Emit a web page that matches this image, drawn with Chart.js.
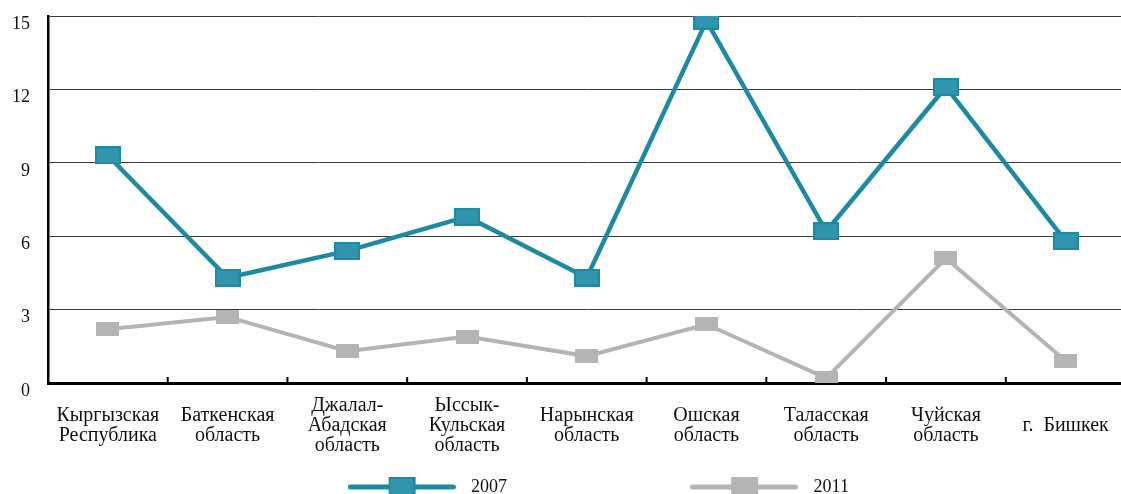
<!DOCTYPE html>
<html><head><meta charset="utf-8">
<script src="https://cdn.jsdelivr.net/npm/chart.js@4/dist/chart.umd.min.js"></script>
<style>
html,body{margin:0;padding:0;background:#fff;overflow:hidden;width:1121px;height:494px}
#wrap{width:1121px;height:494px;overflow:hidden;position:relative}
canvas{position:absolute;left:0;top:0}
</style></head>
<body><div id="wrap"><canvas id="c" width="1140" height="506"></canvas></div>
<script>
const categories = [
  ['Кыргызская','Республика'],
  ['Баткенская','область'],
  ['Джалал-','Абадская','область'],
  ['Ыссык-','Кульская','область'],
  ['Нарынская','область'],
  ['Ошская','область'],
  ['Таласская','область'],
  ['Чуйская','область'],
  'г.  Бишкек'
];
const seriesNames = ['2007','2011'];
const values2007 = [9.3, 4.3, 5.4, 6.8, 4.3, 14.8, 6.2, 12.1, 5.8];
const values2011 = [2.2, 2.7, 1.3, 1.9, 1.1, 2.4, 0.2, 5.1, 0.9];
const yTickValues = [0, 3, 6, 9, 12, 15];

const TEAL = '#1d8aa3', TEAL_FILL = '#3095ad', GRAY = '#b4b4b4';
const FONT = 'Liberation Serif';

function makeMarker(w, h, fill, stroke, sw) {
  const c = document.createElement('canvas');
  c.width = w; c.height = h;
  const g = c.getContext('2d');
  g.fillStyle = stroke; g.fillRect(0, 0, w, h);
  g.fillStyle = fill; g.fillRect(sw, sw, w - 2 * sw, h - 2 * sw);
  return c;
}
function makeLegendIcon(color, mw, mh, fill, stroke, sw, lw) {
  const W = 108, H = 22;
  const c = document.createElement('canvas');
  c.width = W; c.height = H;
  const g = c.getContext('2d');
  g.strokeStyle = color; g.lineWidth = lw; g.lineCap = 'round';
  g.beginPath(); g.moveTo(lw / 2, H / 2); g.lineTo(W - lw / 2, H / 2); g.stroke();
  const m = makeMarker(mw, mh, fill, stroke, sw);
  g.drawImage(m, (W - mw) / 2, (H - mh) / 2);
  return c;
}
const marker2007 = makeMarker(26, 18, TEAL_FILL, TEAL, 2);
const marker2011 = makeMarker(23, 14, GRAY, GRAY, 0);
const legendIcons = [
  makeLegendIcon(TEAL, 27, 20, TEAL_FILL, TEAL, 2, 5),
  makeLegendIcon(GRAY, 27, 20, GRAY, GRAY, 0, 5)
];

const innerTicks = {
  id: 'innerTicks',
  afterDraw(chart) {
    const s = chart.scales.x, ctx = chart.ctx;
    ctx.save();
    ctx.strokeStyle = '#000'; ctx.lineWidth = 2;
    for (let i = 1; i <= categories.length; i++) {
      const x = (s.getPixelForValue(i - 1) + s.getPixelForValue(i)) / 2;
      ctx.beginPath(); ctx.moveTo(x, s.top - 6); ctx.lineTo(x, s.top); ctx.stroke();
    }
    ctx.restore();
  }
};
const legendShift = {
  id: 'legendShift',
  afterLayout(chart) {
    if (chart.legend) { chart.legend.left += 29; chart.legend.right += 29; }
  }
};

new Chart(document.getElementById('c'), {
  type: 'line',
  data: {
    labels: categories,
    datasets: [
      { label: seriesNames[0], data: values2007, borderColor: TEAL, backgroundColor: TEAL,
        borderWidth: 4.5, pointStyle: marker2007, pointRadius: 10, tension: 0, fill: false },
      { label: seriesNames[1], data: values2011, borderColor: GRAY, backgroundColor: GRAY,
        borderWidth: 4, pointStyle: marker2011, pointRadius: 10, tension: 0, fill: false }
    ]
  },
  options: {
    responsive: false,
    animation: false,
    devicePixelRatio: 1,
    layout: { padding: { top: 16, right: 8, left: 0, bottom: 0 } },
    plugins: {
      tooltip: { enabled: false },
      legend: {
        position: 'bottom',
        labels: {
          usePointStyle: true,
          pointStyleWidth: 121,
          padding: 10,
          color: '#111',
          font: { family: FONT, size: 18 },
          generateLabels(chart) {
            return chart.data.datasets.map((ds, i) => ({
              text: i === 0 ? ds.label + ' '.repeat(37) : ds.label,
              pointStyle: legendIcons[i],
              fillStyle: 'rgba(0,0,0,0)', strokeStyle: 'rgba(0,0,0,0)', lineWidth: 0,
              hidden: false, datasetIndex: i, fontColor: '#111'
            }));
          }
        }
      }
    },
    scales: {
      x: {
        offset: true,
        grid: { display: true, offset: true, drawOnChartArea: false, drawTicks: false },
        border: { color: '#000', width: 3 },
        ticks: { autoSkip: false, maxRotation: 0, minRotation: 0, padding: 23, crossAlign: 'center',
          color: '#111', font: { family: FONT, size: 20, lineHeight: 1.0 } },
        afterFit(s) { s.height = 85; }
      },
      y: {
        min: 0, max: 15,
        afterBuildTicks(s) { s.ticks = yTickValues.map(v => ({ value: v })); },
        grid: { color: '#3a3a3a', lineWidth: 1, drawTicks: true, tickLength: 14, tickColor: 'rgba(0,0,0,0)' },
        border: { color: '#000', width: 2.5 },
        ticks: { padding: 4, labelOffset: 8, color: '#111', font: { family: FONT, size: 18 } },
        afterFit(s) { s.width = 48; }
      }
    }
  },
  plugins: [innerTicks, legendShift]
});
</script>
</body></html>
